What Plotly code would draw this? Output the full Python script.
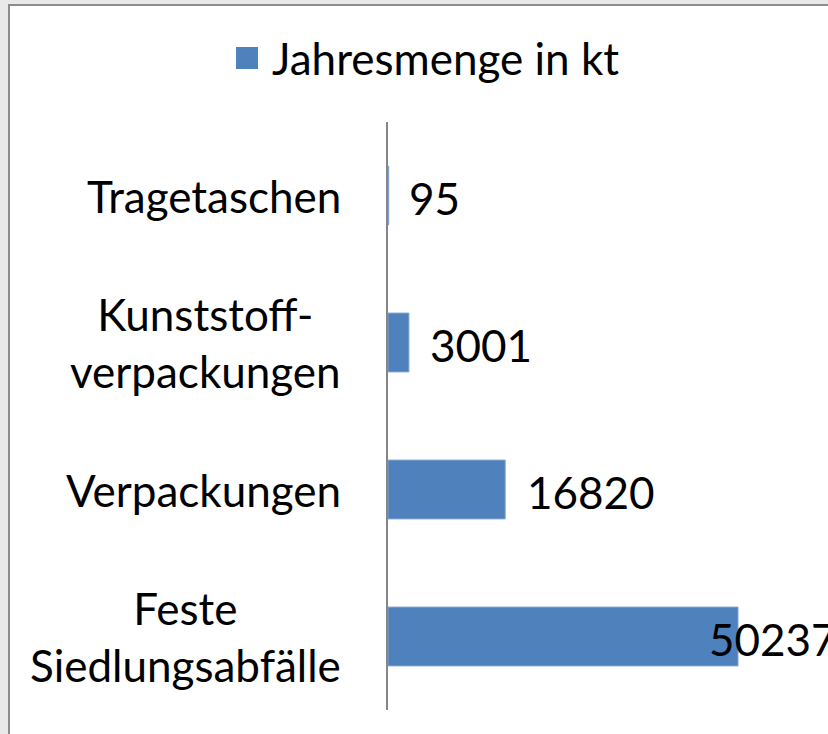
import plotly.graph_objects as go

categories = ["Tragetaschen", "Kunststoff-<br>verpackungen", "Verpackungen", "Feste<br>Siedlungsabfälle"]
values = [95, 3001, 16820, 50237]
value_labels = ["95", "3001", "16820", "50237"]
series_name = "Jahresmenge in kt"
label_shift = [18, 19, 20, -31]

W, H = 828, 734
L, R, T, B = 388, 0, 122, 24
pw, ph = W - L - R, H - T - B

def px_x(p):
    return (p - L) / pw

def px_y(p):
    return (H - B - p) / ph

FONT = "Lato"
FS = 44
BAR = "#4F81BD"

fig = go.Figure()
fig.add_trace(go.Bar(
    y=categories, x=values, orientation="h", name=series_name,
    marker=dict(color=BAR, line=dict(color="#7fa2d1", width=1)),
    width=0.4, showlegend=False, hoverinfo="x+y",
))

annotations = []
for c in categories:
    annotations.append(dict(
        x=px_x(343), xref="paper", y=c, yref="y", text=c, showarrow=False,
        xanchor="right", yanchor="middle", align="center",
        font=dict(family=FONT, size=FS, color="#000000"),
    ))
for c, v, t, s in zip(categories, values, value_labels, label_shift):
    annotations.append(dict(
        x=v, xref="x", y=c, yref="y", text=t, showarrow=False,
        xanchor="left", yanchor="middle", xshift=s, yshift=-2,
        font=dict(family=FONT, size=FS, color="#000000"),
    ))
# legend text
annotations.append(dict(
    x=px_x(270), xref="paper", y=px_y(58), yref="paper", text=series_name,
    showarrow=False, xanchor="left", yanchor="middle",
    font=dict(family=FONT, size=FS, color="#000000"),
))

shapes = [
    dict(type="rect", xref="paper", yref="paper", layer="below",
         x0=px_x(9), x1=px_x(W + 20), y0=px_y(H + 20), y1=px_y(5),
         fillcolor="#ffffff", line=dict(color="#8c8c8c", width=2)),
    dict(type="rect", xref="paper", yref="paper",
         x0=px_x(236), x1=px_x(258), y0=px_y(69), y1=px_y(47),
         fillcolor=BAR, line=dict(width=0)),
]

fig.update_layout(
    width=W, height=H,
    margin=dict(l=L, r=R, t=T, b=B, pad=0),
    paper_bgcolor="#e9e9e9",
    plot_bgcolor="rgba(0,0,0,0)",
    showlegend=False,
    bargap=0.6,
    xaxis=dict(range=[0, 63155], visible=False, fixedrange=True),
    yaxis=dict(autorange="reversed", showticklabels=False, ticks="",
               showgrid=False, zeroline=False, showline=True,
               linecolor="#868686", linewidth=2, fixedrange=True),
    annotations=annotations,
    shapes=shapes,
    font=dict(family=FONT, size=FS),
)

fig.write_html(
    "out.html",
    config={"displayModeBar": False},
    post_script="document.body.style.margin='0';document.body.style.overflow='hidden';document.body.style.background='#e9e9e9';",
)
